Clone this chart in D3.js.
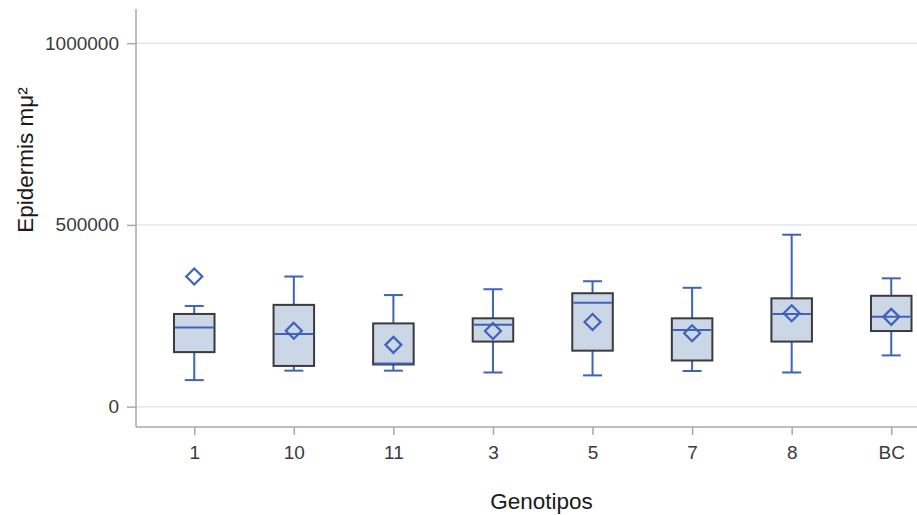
<!DOCTYPE html>
<html>
<head>
<meta charset="utf-8">
<script src="https://cdn.jsdelivr.net/npm/d3@7"></script>
<style>
  html, body { margin: 0; padding: 0; background: #fff; }
  svg { display: block; font-family: "Liberation Sans", Arial, sans-serif; }
</style>
</head>
<body>
<svg id="chart" width="917" height="515"></svg>
<script>
// Epidermis area per genotype: box-plot summary statistics
const categories  = ["1", "10", "11", "3", "5", "7", "8", "BC"];
const whiskerLow  = [73000,  99000,  99000,  94000,  86000,  98000,  94000, 141000];
const q1          = [150000, 112000, 116000, 179000, 154000, 127000, 179000, 208000];
const median      = [218000, 200000, 119000, 225000, 286000, 211000, 255000, 247000];
const q3          = [255000, 280000, 229000, 243000, 312000, 243000, 298000, 305000];
const whiskerHigh = [277000, 358000, 307000, 323000, 345000, 327000, 473000, 353000];
const meanValues  = [358000, 209000, 170000, 208000, 233000, 202000, 257000, 247000];
const yTicks      = [0, 500000, 1000000];

const boxes = categories.map((c, i) => ({
  cat: c, lo: whiskerLow[i], q1: q1[i], med: median[i],
  q3: q3[i], hi: whiskerHigh[i], mean: meanValues[i]
}));

const plot = { left: 136, right: 917, top: 9, bottom: 427 };

const svg = d3.select("#chart");

const x = d3.scalePoint()
  .domain(categories)
  .range([plot.left, 949.5])
  .padding(0.585);

const y = d3.scaleLinear()
  .domain([-56000, 1094000])
  .range([plot.bottom, plot.top]);

const step = x.step();
const boxW = step * 0.407;
const capW = 19;

const blue = "#3f63b8";
const axisGrey = "#a9a9a9";
const textGrey = "#3a3a3a";

// horizontal grid lines
svg.append("g")
  .selectAll("line")
  .data(yTicks)
  .join("line")
  .attr("x1", plot.left).attr("x2", plot.right)
  .attr("y1", d => y(d)).attr("y2", d => y(d))
  .attr("stroke", "#e6e6e6")
  .attr("stroke-width", 1.5);

// y axis
const yAxis = svg.append("g")
  .attr("transform", `translate(${plot.left},0)`)
  .call(d3.axisLeft(y).tickValues(yTicks).tickFormat(d3.format("d")).tickSize(9).tickPadding(8));
yAxis.select(".domain").remove();
yAxis.selectAll(".tick line").attr("stroke", axisGrey).attr("stroke-width", 1.5);
yAxis.selectAll(".tick text")
  .attr("fill", textGrey)
  .style("font-size", "19px");
svg.append("line")
  .attr("x1", plot.left).attr("x2", plot.left)
  .attr("y1", plot.top).attr("y2", plot.bottom)
  .attr("stroke", axisGrey).attr("stroke-width", 1.5);

// x axis
const xAxis = svg.append("g")
  .attr("transform", `translate(0,${plot.bottom})`)
  .call(d3.axisBottom(x).tickSize(8).tickPadding(11));
xAxis.select(".domain").remove();
xAxis.selectAll(".tick line").attr("stroke", axisGrey).attr("stroke-width", 1.5);
xAxis.selectAll(".tick text")
  .attr("fill", textGrey)
  .style("font-size", "19px");
svg.append("line")
  .attr("x1", plot.left).attr("x2", plot.right)
  .attr("y1", plot.bottom).attr("y2", plot.bottom)
  .attr("stroke", axisGrey).attr("stroke-width", 1.5);

// axis titles
svg.append("text")
  .attr("x", 541.5).attr("y", 509)
  .attr("text-anchor", "middle")
  .attr("fill", "#1a1a1a")
  .style("font-size", "22.5px")
  .text("Genotipos");

svg.append("text")
  .attr("transform", "translate(33,160) rotate(-90)")
  .attr("text-anchor", "middle")
  .attr("fill", "#1a1a1a")
  .style("font-size", "22.5px")
  .text("Epidermis mμ²");

// box plots
const g = svg.append("g")
  .selectAll("g")
  .data(boxes)
  .join("g")
  .attr("transform", d => `translate(${x(d.cat)},0)`);

// whiskers
g.append("line")
  .attr("x1", 0).attr("x2", 0)
  .attr("y1", d => y(d.q3)).attr("y2", d => y(d.hi))
  .attr("stroke", blue).attr("stroke-width", 2);
g.append("line")
  .attr("x1", 0).attr("x2", 0)
  .attr("y1", d => y(d.q1)).attr("y2", d => y(d.lo))
  .attr("stroke", blue).attr("stroke-width", 2);
g.append("line")
  .attr("x1", -capW / 2).attr("x2", capW / 2)
  .attr("y1", d => y(d.hi)).attr("y2", d => y(d.hi))
  .attr("stroke", blue).attr("stroke-width", 2);
g.append("line")
  .attr("x1", -capW / 2).attr("x2", capW / 2)
  .attr("y1", d => y(d.lo)).attr("y2", d => y(d.lo))
  .attr("stroke", blue).attr("stroke-width", 2);

// interquartile box
g.append("rect")
  .attr("x", -boxW / 2)
  .attr("width", boxW)
  .attr("y", d => y(d.q3))
  .attr("height", d => y(d.q1) - y(d.q3))
  .attr("fill", "#cbd6e7")
  .attr("stroke", "#3b3b3b")
  .attr("stroke-width", 2);

// median
g.append("line")
  .attr("x1", -boxW / 2 + 1).attr("x2", boxW / 2 - 1)
  .attr("y1", d => y(d.med)).attr("y2", d => y(d.med))
  .attr("stroke", blue).attr("stroke-width", 2);

// mean marker (diamond)
const r = 8;
g.append("path")
  .attr("d", d => {
    const cy = y(d.mean);
    return `M0,${cy - r}L${r},${cy}L0,${cy + r}L${-r},${cy}Z`;
  })
  .attr("fill", "none")
  .attr("stroke", blue)
  .attr("stroke-width", 2.2);
</script>
</body>
</html>
